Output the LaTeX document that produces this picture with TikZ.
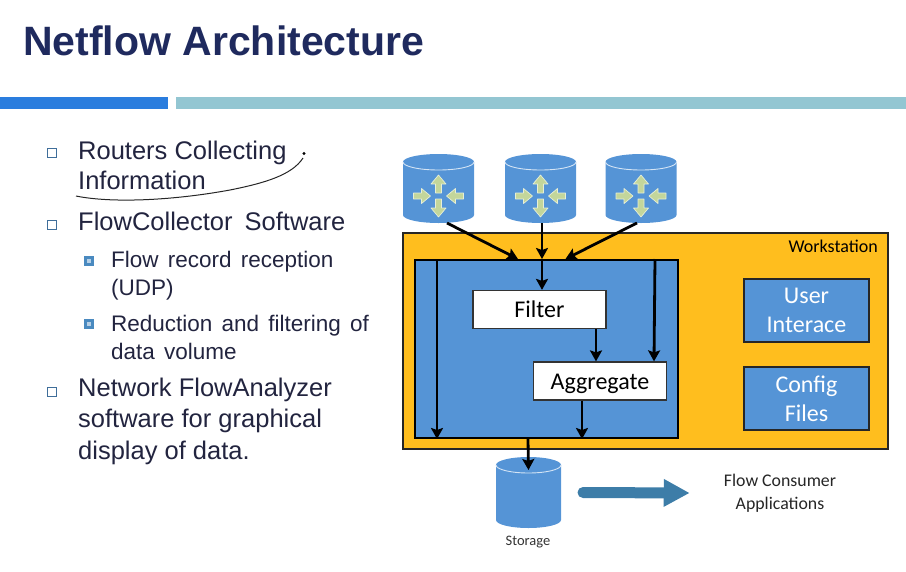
\documentclass[tikz,border=0pt]{standalone}
\usepackage{xcolor}
\usepackage{fontspec}
\setmainfont{Liberation Sans}
\newfontfamily\boxfont{Carlito}
\usetikzlibrary{shapes,arrows,positioning,calc,arrows.meta}
\definecolor{titleblue}{HTML}{1F2A5E}
\definecolor{listink}{HTML}{22243F}
\definecolor{barblue}{HTML}{2A7DDE}
\definecolor{barteal}{HTML}{93C6D2}
\definecolor{boxblue}{HTML}{5594D6}
\definecolor{wsyellow}{HTML}{FFBE1E}
\definecolor{bigarrow}{HTML}{3D7DA8}
\definecolor{routergreen}{HTML}{C3D69B}
\definecolor{bulletblue}{HTML}{3F6E9A}
\definecolor{bulletlight}{HTML}{4A8AC0}
\newcommand{\subfont}{\fontsize{22.5}{28.5}\selectfont\setlength{\spaceskip}{9.2pt}}
\tikzstyle{arrow} = [-{Stealth[length=11pt,width=12pt,inset=2pt]}, line width=2.8pt, black]
\tikzstyle{dbslot} = [rectangle, inner sep=0pt, outer sep=0pt, minimum width=71pt, minimum height=69pt]
\tikzstyle{toprim} = [line width=0.9pt, white!75!boxblue]
\tikzstyle{whitebox} = [rectangle, draw=black!80, line width=1.2pt, fill=white, inner sep=0pt, text height=19pt, text depth=2.5pt, minimum height=38pt, minimum width=133pt, font=\boxfont\fontsize{24}{26}\selectfont]
\tikzstyle{bluebox} = [rectangle, draw=black!85, line width=2pt, fill=boxblue, inner sep=0pt, minimum width=125pt, minimum height=63pt, align=center, text=white, font=\boxfont\fontsize{24}{29}\selectfont]
\tikzstyle{listitem} = [anchor=north west, inner sep=0pt, align=left, text=listink, font=\fontsize{25.5}{30.5}\selectfont]
\tikzstyle{subitem} = [anchor=north west, inner sep=0pt, align=left, text=listink, font=\subfont]
\tikzstyle{bulletout} = [rectangle, draw=bulletblue, line width=1.1pt, inner sep=0pt, minimum size=8.5pt]
\tikzstyle{bulletsub} = [rectangle, draw=bulletlight, line width=3pt, fill=white!60!bulletlight, inner sep=0pt, minimum size=7pt]
\newcommand{\dbdrum}[3]{% name, x radius, y radius
    \fill[boxblue] ([yshift=-#3]#1.north west) arc[start angle=180, end angle=0, x radius=#2, y radius=#3]
        -- ([yshift=#3]#1.south east) arc[start angle=0, end angle=-180, x radius=#2, y radius=#3] -- cycle;
    \draw[toprim] ([yshift=-#3]#1.north west) arc[start angle=180, end angle=360, x radius=#2, y radius=#3];
}
\tikzset{
  routerarrows/.pic={
    \foreach \ang in {90,270} {
      \draw[rotate=\ang, fill=routergreen, draw=white!60!routergreen, line width=0.7pt, line join=round]
        (3pt,-3pt) -- (12pt,-3pt) -- (12pt,-7.5pt) -- (21pt,0pt) -- (12pt,7.5pt) -- (12pt,3pt) -- (3pt,3pt) -- cycle;
    }
    \foreach \ang in {0,180} {
      \draw[rotate=\ang, fill=routergreen, draw=white!60!routergreen, line width=0.7pt, line join=round]
        (-25pt,-3pt) -- (-17pt,-3pt) -- (-17pt,-7.5pt) -- (-8pt,0pt) -- (-17pt,7.5pt) -- (-17pt,3pt) -- (-25pt,3pt) -- cycle;
    }
  }
}
\begin{document}
\begin{tikzpicture}[x=1pt, y=-1pt]
    \useasboundingbox (0,0) rectangle (906,571);
    % Title and bars
    \node[anchor=base west, inner sep=0pt, text=titleblue, font=\bfseries\fontsize{41}{43}\selectfont] (title) at (23,55) {Netflow Architecture};
    \fill[barblue] (0,97) rectangle (168,109);
    \fill[barteal] (176,97) rectangle (906,109);

    % Bullet list
    \node[bulletout] (b1) at (52,153) {};
    \node[bulletout] (b2) at (52,225) {};
    \node[bulletout] (b3) at (52,392) {};
    \node[bulletsub] (s1) at (88.5,260.5) {};
    \node[bulletsub] (s2) at (88.5,324) {};
    \node[listitem] (item1) at (78,140.5) {Routers Collecting\\Information};
    \node[listitem] (item2) at (78,211.5) {FlowCollector\hspace{5pt} Software};
    \node[subitem] (sub1) at (111,250.5) {Flow record reception\\(UDP)};
    \node[subitem] (sub2) at (111,314.5) {Reduction and filtering of\\data volume};
    \node[listitem, font=\fontsize{25.5}{31.5}\selectfont] (item3) at (78,377.5) {Network FlowAnalyzer\\software for graphical\\display of data.};

    % Pen stroke
    \draw[line width=1pt, black!85] (76,196) .. controls (110,203) and (170,201) .. (230,190) .. controls (265,183) and (292,175) .. (303,158);
    \fill[black] (304,153.5) circle (1.6pt);

    % Workstation
    \node[rectangle, draw=black!85, line width=2pt, fill=wsyellow, minimum width=485pt, minimum height=216pt, inner sep=0pt] (workstation) at (645.5,341) {};
    \node[anchor=north east, inner sep=0pt, font=\boxfont\fontsize{18}{20}\selectfont] (wslabel) at (878,240) {Workstation};
    \node[rectangle, draw=black, line width=2pt, fill=boxblue, minimum width=263pt, minimum height=178pt, inner sep=0pt] (collector) at (546.5,349) {};
    \node[whitebox] (filter) at (539.5,309.5) {Filter};
    \node[whitebox] (aggregate) at (600,381) {Aggregate};
    \node[bluebox] (userif) at (806.5,310) {User\\Interace};
    \node[bluebox] (config) at (806.5,398.5) {Config\\Files};

    % Routers
    \foreach \n/\cx in {router1/438.5, router2/540.5, router3/641} {
        \node[dbslot] (\n) at (\cx,188.5) {};
        \dbdrum{\n}{35.5pt}{8pt}
        \pic at (\cx,196) {routerarrows};
    }

    % Storage
    \node[dbslot, minimum width=65pt, minimum height=71pt] (storage) at (528.5,492.5) {};
    \dbdrum{storage}{32.5pt}{8pt}
    \node[font=\boxfont\fontsize{14.5}{16}\selectfont, text=black!80, inner sep=0pt] (storagelabel) at (528,542) {Storage};
    \node[font=\boxfont\fontsize{17.8}{23}\selectfont, text=black!85, align=center, inner sep=0pt] (flowapps) at (780,493) {Flow Consumer\\Applications};

    % Arrows
    \draw[arrow] ([xshift=8.5pt]router1.south) -- ([xshift=-28.5pt]collector.north);
    \draw[arrow] ([xshift=1.5pt]router2.south) -- ([xshift=-4.5pt]collector.north);
    \draw[arrow] ([xshift=-4pt]router3.south) -- ([xshift=19pt]collector.north);
    \draw[arrow] ([xshift=-4.5pt]collector.north) -- ([xshift=2.5pt]filter.north);
    \draw[arrow] ([xshift=23pt]collector.north west) -- ([xshift=23pt]collector.south west);
    \draw[arrow] ([xshift=-24pt]collector.north east) -- ([xshift=54pt]aggregate.north);
    \draw[arrow] ([xshift=56.5pt]filter.south) -- ([xshift=-4pt]aggregate.north);
    \draw[arrow] ([xshift=-18pt]aggregate.south) -- ([xshift=35.5pt]collector.south);
    \draw[arrow] ([xshift=-18.5pt]collector.south) -- ([yshift=-13pt]storage.north);
    \draw[line width=11pt, line cap=round, bigarrow, -{Triangle[length=26pt,width=26pt]}] ([xshift=22pt]storage.east) -- ([xshift=-34pt]flowapps.west);
\end{tikzpicture}
\end{document}
